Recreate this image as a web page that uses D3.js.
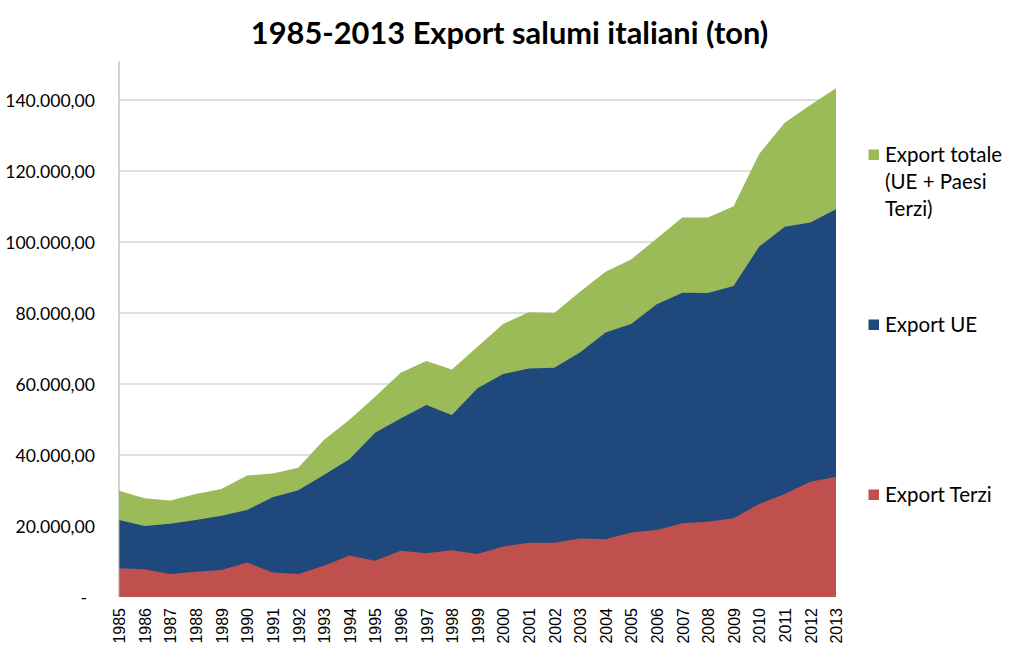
<!DOCTYPE html>
<html>
<head>
<meta charset="utf-8">
<script src="https://cdn.jsdelivr.net/npm/d3@7"></script>
<style>
  html, body { margin: 0; padding: 0; background: #fff; }
  svg { display: block; }
</style>
</head>
<body>
<svg id="chart" width="1023" height="672"></svg>
<script>
const years = [1985,1986,1987,1988,1989,1990,1991,1992,1993,1994,1995,1996,1997,1998,1999,2000,2001,2002,2003,2004,2005,2006,2007,2008,2009,2010,2011,2012,2013];
const exportTotale = [29900,27800,27200,29000,30400,34200,34800,36400,44200,49900,56400,63200,66500,64100,70500,76900,80200,80000,86000,91600,95100,101000,106900,106900,110100,124800,133600,138600,143300];
const exportUE = [21700,20000,20600,21700,22900,24500,28100,30100,34400,38800,46300,50300,54100,51300,58800,62800,64400,64600,68900,74500,76900,82500,85700,85600,87600,98700,104300,105500,109200];
const exportTerzi = [8100,7800,6500,7100,7600,9700,6900,6500,8800,11700,10200,13000,12300,13200,12100,14200,15300,15300,16500,16300,18200,18900,20800,21200,22200,26200,29000,32500,33900];
const yTicks = [0,20000,40000,60000,80000,100000,120000,140000];
const seriesNames = ["Export totale (UE + Paesi Terzi)", "Export UE", "Export Terzi"];
const seriesColors = ["#9BBB59", "#1F497D", "#C0504D"];

(function () {
const svg = d3.select("#chart");
const pLeft = 119, pRight = 836, pBottom = 597, pTop = 64.5;

const x = d3.scaleLinear().domain([years[0], years[years.length-1]]).range([pLeft, pRight]);
const y = d3.scaleLinear().domain([0, 150000]).range([pBottom, pTop]);

// gridlines
svg.append("g")
  .selectAll("line")
  .data(yTicks.filter(d => d > 0))
  .join("line")
  .attr("x1", pLeft).attr("x2", pRight)
  .attr("y1", d => y(d)).attr("y2", d => y(d))
  .attr("stroke", "#bfbfbf").attr("stroke-width", 1);

// areas (overlapping, drawn back to front)
const seriesData = [exportTotale, exportUE, exportTerzi];
const area = d3.area()
  .x((d, i) => x(years[i]))
  .y0(y(0))
  .y1(d => y(d));
svg.append("g")
  .selectAll("path")
  .data(seriesData)
  .join("path")
  .attr("d", d => area(d))
  .attr("fill", (d, i) => seriesColors[i]);

// y axis
const fmt = v => v === 0 ? "-" : d3.format(",.2f")(v).replace(/,/g, "#").replace(/\./g, ",").replace(/#/g, ".");
const yAxis = svg.append("g")
  .attr("transform", `translate(${pLeft},0)`)
  .call(d3.axisLeft(y).tickValues(yTicks).tickFormat(fmt).tickSize(0).tickPadding(24));
yAxis.select(".domain").attr("stroke", "#a6a6a6").attr("d", `M0,${pTop-3}V${pBottom}`);
yAxis.selectAll("text")
  .attr("font-family", "Lato, 'Open Sans', sans-serif")
  .attr("font-size", 17.6)
  .attr("fill", "#000")
  .attr("dy", "0.36em");
yAxis.selectAll(".tick").filter(d => d === 0).select("text").attr("x", -32);

// x axis
const xAxis = svg.append("g")
  .attr("transform", `translate(0,${pBottom})`)
  .call(d3.axisBottom(x).tickValues(years).tickFormat(d3.format("d")).tickSize(0));
xAxis.select(".domain").remove();
xAxis.selectAll("text")
  .attr("font-family", "'Liberation Sans', Arial, sans-serif")
  .attr("font-size", 16)
  .attr("fill", "#000")
  .attr("text-anchor", "end")
  .attr("transform", "rotate(-90)")
  .attr("x", -11)
  .attr("y", 0)
  .attr("dy", "0.36em");

// title
svg.append("text")
  .attr("x", 509.5).attr("y", 44)
  .attr("text-anchor", "middle")
  .attr("font-family", "Lato, 'Open Sans', sans-serif")
  .attr("font-weight", "bold")
  .attr("font-size", 30.8)
  .attr("fill", "#000")
  .text("1985-2013 Export salumi italiani (ton)");

// legend
const legendItems = [
  { lines: ["Export totale", "(UE + Paesi", "Terzi)"], color: seriesColors[0], sq: 149.5, base: 162 },
  { lines: ["Export UE"], color: seriesColors[1], sq: 319.5, base: 332 },
  { lines: ["Export Terzi"], color: seriesColors[2], sq: 489.5, base: 502 }
];
const lg = svg.append("g");
legendItems.forEach(item => {
  lg.append("rect")
    .attr("x", 868.5).attr("y", item.sq)
    .attr("width", 10.5).attr("height", 10.5)
    .attr("fill", item.color);
  const t = lg.append("text")
    .attr("x", 885).attr("y", item.base)
    .attr("font-family", "Lato, 'Open Sans', sans-serif")
    .attr("font-size", 20.5)
    .attr("fill", "#000");
  item.lines.forEach((ln, i) => {
    t.append("tspan").attr("x", 885).attr("dy", i === 0 ? 0 : 27.2).text(ln);
  });
});
})();
</script>
</body>
</html>
